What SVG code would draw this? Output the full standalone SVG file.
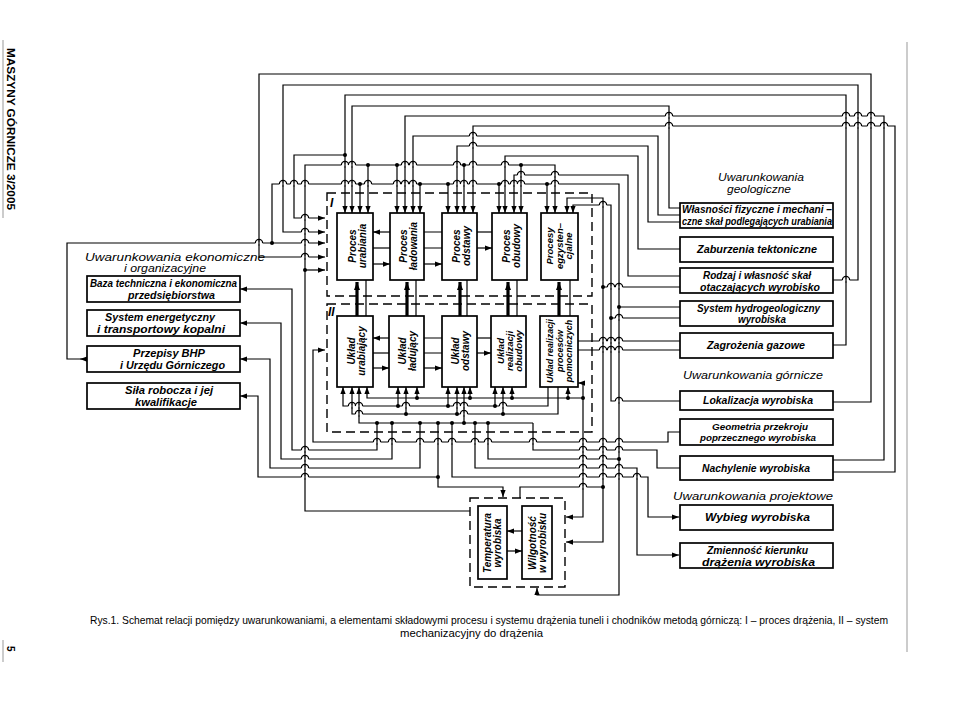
<svg xmlns="http://www.w3.org/2000/svg" xmlns:xlink="http://www.w3.org/1999/xlink" width="960" height="714" viewBox="0 0 960 714">
<style>
.b{fill:#fff;stroke:#000;stroke-width:1.7}
.w{fill:none;stroke:#000;stroke-width:1.2}
.wa{fill:none;stroke:#000;stroke-width:1.2;marker-end:url(#ar)}
.th{fill:none;stroke:#000;stroke-width:3.2;marker-end:url(#ar2)}
.d{fill:none;stroke:#000;stroke-width:1.4;stroke-dasharray:9 5}
.t{font-family:"Liberation Sans",Arial,sans-serif;font-style:italic;font-weight:bold;font-size:10px;fill:#000}
.h{font-family:"Liberation Sans",Arial,sans-serif;font-style:italic;font-size:11px;fill:#000}
.c{font-family:"Liberation Sans",Arial,sans-serif;font-size:11px;fill:#000}
.g{stroke:#999;stroke-width:1}
</style>
<defs>
<marker id="ar" viewBox="0 0 8 6" refX="8" refY="3" markerWidth="7" markerHeight="5.5" markerUnits="userSpaceOnUse" orient="auto"><path d="M0,0 L8,3 L0,6 z" fill="#000"/></marker>
<marker id="ar2" viewBox="0 0 8 6" refX="8" refY="3" markerWidth="8" markerHeight="7" markerUnits="userSpaceOnUse" orient="auto"><path d="M0,0 L8,3 L0,6 z" fill="#000"/></marker>
<g id="hop"><path d="M-3.6,0 H3.6" stroke="#fff" stroke-width="3"/><path d="M0,-2.6 V2.6" stroke="#000" stroke-width="1.2"/><path d="M-3.6,0 A3.6,3.6 0 0 1 3.6,0" fill="none" stroke="#000" stroke-width="1.2"/></g>
</defs>
<rect width="960" height="714" fill="#fff"/>

<!-- page margins -->
<line class="g" x1="3" y1="40" x2="3" y2="218"/>
<text transform="translate(7,48) rotate(90)" style="font-family:'Liberation Sans',Arial,sans-serif;font-weight:bold;font-size:10px" textLength="162" lengthAdjust="spacingAndGlyphs">MASZYNY GÓRNICZE 3/2005</text>
<line class="g" x1="3" y1="640" x2="3" y2="662"/>
<text transform="translate(7,646) rotate(90)" style="font-family:'Liberation Sans',Arial,sans-serif;font-weight:bold;font-size:10px">5</text>
<line class="g" x1="907" y1="42" x2="907" y2="652"/>

<!-- dashed frames -->
<g id="frame-I"><rect class="d" x="327" y="193" width="265" height="103"/><text class="t" x="330" y="207" style="font-size:12px">I</text></g>
<g id="frame-II"><rect class="d" x="327" y="304" width="265" height="128"/><text class="t" x="328" y="316" style="font-size:12px">II</text></g>
<g id="frame-env"><rect class="d" x="470" y="498" width="95" height="89"/></g>

<g id="connectors">
<!-- top loops -->
<path class="wa" d="M833,402 H871 V74 H259 V257 H325"/>
<path class="wa" d="M833,280 H858 V85 H283 V232 H325"/>
<path class="wa" d="M833,345 H846 V95 H345 V213"/>
<path class="wa" d="M680,208 H669 V106 H352 V213"/>
<path class="wa" d="M833,460 H884 V116 H405 V213"/>
<path class="wa" d="M833,472 H895 V126 H473 V213"/>
<path class="wa" d="M680,215 H658 V136 H413 V213"/>
<path class="wa" d="M680,222 H648 V146 H457 V213"/>
<path class="wa" d="M345,155 H294 V218 H325"/>
<path class="wa" d="M680,249 H638 V156 H505 V213"/>
<path class="wa" d="M470,511 H305 V165 H555 V213"/>
<path class="wa" d="M305,270 H325"/>
<path class="wa" d="M368,165 V213"/><path class="wa" d="M397,165 V213"/><path class="wa" d="M464,165 V213"/><path class="wa" d="M521,165 V213"/>
<path class="wa" d="M680,276 H628 V175 H514 V213"/>
<path class="wa" d="M272,243 V184 H619 V595 H537 V588"/>
<path class="wa" d="M360,184 V213"/><path class="wa" d="M420,184 V213"/><path class="wa" d="M448,184 V213"/><path class="wa" d="M499,184 V213"/><path class="wa" d="M547,184 V213"/>
<path class="wa" d="M87,359 H80"/>
<path class="wa" d="M80,359 H67 V243 H325"/>
<path class="wa" d="M603,487 V198 H567 V213"/>
<path class="wa" d="M603,487 V542 H566"/>
<path class="wa" d="M680,401 H611 V205 H573 V213"/>
<!-- right boxes lower feeds -->
<path class="w" d="M603,287 H680"/>
<path class="w" d="M619,307 H680"/>
<path class="w" d="M611,318 H680"/>
<path class="w" d="M578,341 H680"/>
<path class="w" d="M578,350 H680"/>
<!-- box I <-> box II -->
<path class="th" d="M357,316 V282"/><path class="th" d="M407,316 V282"/><path class="th" d="M460,316 V282"/><path class="th" d="M508,316 V282"/><path class="th" d="M559,316 V282"/>
<path class="w" d="M366,316 V280 M416,316 V280 M467,316 V280 M517,316 V280 M570,316 V280"/>
<!-- inter-box arrows I -->
<path class="wa" d="M390,232 H373"/><path class="w" d="M373,248 H390"/><path class="wa" d="M373,264 H390"/>
<path class="w" d="M424,232 H442 M424,248 H442"/><path class="wa" d="M424,264 H442"/>
<path class="w" d="M477,232 H492"/><path class="wa" d="M477,248 H492"/>
<!-- inter-box arrows II -->
<path class="wa" d="M389,338 H373"/><path class="w" d="M373,353 H389"/><path class="wa" d="M373,368 H389"/>
<path class="w" d="M424,338 H442 M424,353 H442"/><path class="wa" d="M424,368 H442"/>
<path class="w" d="M477,338 H491"/><path class="wa" d="M477,353 H491"/>
<!-- box II bottom buses -->
<path class="wa" d="M583,398 V383 H578"/>
<path class="wa" d="M583,398 H367 V387"/>
<path class="wa" d="M417,398 V387"/><path class="wa" d="M470,398 V387"/><path class="wa" d="M512,398 V387"/><path class="wa" d="M568,398 V387"/>
<path class="wa" d="M548,387 V406 H343 V387"/>
<path class="wa" d="M398,406 V387"/><path class="wa" d="M448,406 V387"/><path class="wa" d="M495,406 V387"/>
<path class="wa" d="M558,387 V414 H352 V387"/>
<path class="wa" d="M406,414 V387"/><path class="wa" d="M457,414 V387"/><path class="wa" d="M503,414 V387"/>
<path class="wa" d="M533,423 H359 V387"/>
<path class="wa" d="M464,423 V387"/>
<!-- to left panel -->
<path class="wa" d="M377,423 V450 H292 V289 H240"/>
<path class="wa" d="M392,423 V459 H281 V323 H240"/>
<path class="wa" d="M420,423 V468 H270 V359 H240"/>
<path class="wa" d="M438,477 H258 V396 H240"/>
<!-- to bottom frame and right panel -->
<path class="wa" d="M438,423 V487 H503 V497"/>
<path class="w" d="M520,498 V487 H603"/>
<path class="wa" d="M583,398 V517 H566"/>
<path class="wa" d="M680,432 H668 V442 H313 V350 H325"/>
<path class="w" d="M533,423 V450 H657 V468 H680"/>
<path class="w" d="M488,423 V459 H619"/>
<path class="wa" d="M475,423 V468 H637 V555 H679"/>
<path class="wa" d="M452,423 V477 H648 V517 H679"/>
<!-- bottom frame inner -->
<path class="wa" d="M522,531 H507"/><path class="wa" d="M507,551 H522"/>
<!-- dots -->
<g fill="#000">
<circle cx="345" cy="155" r="2"/><circle cx="305" cy="270" r="2"/>
<circle cx="368" cy="165" r="2"/><circle cx="397" cy="165" r="2"/><circle cx="464" cy="165" r="2"/><circle cx="521" cy="165" r="2"/>
<circle cx="272" cy="243" r="2"/>
<circle cx="360" cy="184" r="2"/><circle cx="420" cy="184" r="2"/><circle cx="448" cy="184" r="2"/><circle cx="499" cy="184" r="2"/><circle cx="547" cy="184" r="2"/>
<circle cx="603" cy="287" r="2"/><circle cx="619" cy="307" r="2"/><circle cx="611" cy="318" r="2"/><circle cx="603" cy="487" r="2"/><circle cx="619" cy="459" r="2"/>
<circle cx="583" cy="398" r="2"/><circle cx="417" cy="398" r="2"/><circle cx="470" cy="398" r="2"/><circle cx="512" cy="398" r="2"/><circle cx="568" cy="398" r="2"/>
<circle cx="398" cy="406" r="2"/><circle cx="448" cy="406" r="2"/><circle cx="495" cy="406" r="2"/>
<circle cx="406" cy="414" r="2"/><circle cx="457" cy="414" r="2"/><circle cx="503" cy="414" r="2"/>
<circle cx="464" cy="423" r="2"/><circle cx="377" cy="423" r="2"/><circle cx="392" cy="423" r="2"/><circle cx="420" cy="423" r="2"/><circle cx="438" cy="423" r="2"/><circle cx="452" cy="423" r="2"/><circle cx="475" cy="423" r="2"/><circle cx="488" cy="423" r="2"/>
<circle cx="438" cy="477" r="2"/>
</g>
<!-- hops -->
<g>
<use href="#hop" x="669" y="116"/><use href="#hop" x="846" y="116"/><use href="#hop" x="858" y="116"/><use href="#hop" x="871" y="116"/>
<use href="#hop" x="669" y="126"/><use href="#hop" x="846" y="126"/><use href="#hop" x="858" y="126"/><use href="#hop" x="871" y="126"/><use href="#hop" x="884" y="126"/>
<use href="#hop" x="473" y="136"/><use href="#hop" x="473" y="146"/>
<use href="#hop" x="345" y="165"/><use href="#hop" x="352" y="165"/><use href="#hop" x="405" y="165"/><use href="#hop" x="413" y="165"/><use href="#hop" x="457" y="165"/><use href="#hop" x="473" y="165"/><use href="#hop" x="505" y="165"/>
<use href="#hop" x="521" y="175"/><use href="#hop" x="555" y="175"/>
<use href="#hop" x="283" y="184"/><use href="#hop" x="294" y="184"/><use href="#hop" x="305" y="184"/><use href="#hop" x="345" y="184"/><use href="#hop" x="352" y="184"/><use href="#hop" x="368" y="184"/><use href="#hop" x="397" y="184"/><use href="#hop" x="405" y="184"/><use href="#hop" x="413" y="184"/><use href="#hop" x="457" y="184"/><use href="#hop" x="464" y="184"/><use href="#hop" x="473" y="184"/><use href="#hop" x="505" y="184"/><use href="#hop" x="514" y="184"/><use href="#hop" x="521" y="184"/><use href="#hop" x="555" y="184"/>
<use href="#hop" x="603" y="205"/>
<use href="#hop" x="305" y="218"/><use href="#hop" x="305" y="232"/><use href="#hop" x="259" y="243"/><use href="#hop" x="305" y="243"/><use href="#hop" x="305" y="257"/>
<use href="#hop" x="846" y="280"/>
<use href="#hop" x="611" y="287"/><use href="#hop" x="619" y="287"/><use href="#hop" x="619" y="318"/>
<use href="#hop" x="603" y="341"/><use href="#hop" x="611" y="341"/><use href="#hop" x="619" y="341"/>
<use href="#hop" x="603" y="350"/><use href="#hop" x="611" y="350"/><use href="#hop" x="619" y="350"/>
<use href="#hop" x="619" y="401"/>
<use href="#hop" x="352" y="406"/><use href="#hop" x="359" y="406"/><use href="#hop" x="406" y="406"/><use href="#hop" x="457" y="406"/><use href="#hop" x="464" y="406"/><use href="#hop" x="503" y="406"/>
<use href="#hop" x="359" y="414"/><use href="#hop" x="464" y="414"/>
<use href="#hop" x="377" y="442"/><use href="#hop" x="392" y="442"/><use href="#hop" x="420" y="442"/><use href="#hop" x="438" y="442"/><use href="#hop" x="452" y="442"/><use href="#hop" x="475" y="442"/><use href="#hop" x="488" y="442"/><use href="#hop" x="533" y="442"/><use href="#hop" x="583" y="442"/><use href="#hop" x="603" y="442"/><use href="#hop" x="619" y="442"/>
<use href="#hop" x="305" y="450"/><use href="#hop" x="583" y="450"/><use href="#hop" x="603" y="450"/><use href="#hop" x="619" y="450"/>
<use href="#hop" x="305" y="459"/><use href="#hop" x="583" y="459"/><use href="#hop" x="603" y="459"/>
<use href="#hop" x="305" y="468"/><use href="#hop" x="583" y="468"/><use href="#hop" x="603" y="468"/><use href="#hop" x="619" y="468"/>
<use href="#hop" x="305" y="477"/><use href="#hop" x="583" y="477"/><use href="#hop" x="603" y="477"/><use href="#hop" x="619" y="477"/><use href="#hop" x="637" y="477"/>
<use href="#hop" x="583" y="487"/>
</g>
</g>

<!-- left panel -->
<text class="h" x="85" y="261" textLength="180" lengthAdjust="spacingAndGlyphs">Uwarunkowania ekonomiczne</text>
<text class="h" x="124" y="272" textLength="82" lengthAdjust="spacingAndGlyphs">i organizacyjne</text>
<g id="baza"><rect class="b" x="87" y="276" width="153" height="26"/><text class="t" x="90" y="287" textLength="147" lengthAdjust="spacingAndGlyphs">Baza techniczna i ekonomiczna</text><text class="t" x="128" y="299" textLength="87" lengthAdjust="spacingAndGlyphs">przedsiębiorstwa</text></g>
<g id="energ"><rect class="b" x="87" y="310" width="153" height="26"/><text class="t" x="105" y="321" textLength="110" lengthAdjust="spacingAndGlyphs">System energetyczny</text><text class="t" x="97" y="333" textLength="128" lengthAdjust="spacingAndGlyphs">i transportowy kopalni</text></g>
<g id="bhp"><rect class="b" x="87" y="346" width="153" height="26"/><text class="t" x="133" y="357" textLength="72" lengthAdjust="spacingAndGlyphs">Przepisy BHP</text><text class="t" x="120" y="369" textLength="105" lengthAdjust="spacingAndGlyphs">i Urzędu Górniczego</text></g>
<g id="sila"><rect class="b" x="87" y="383" width="153" height="26"/><text class="t" x="125" y="394" textLength="88" lengthAdjust="spacingAndGlyphs">Siła robocza i jej</text><text class="t" x="135" y="406" textLength="62" lengthAdjust="spacingAndGlyphs">kwalifikacje</text></g>

<!-- process boxes I -->
<g id="p1"><rect class="b" x="337" y="213" width="36" height="67"/><text class="t" transform="translate(355,246) rotate(-90)" text-anchor="middle"><tspan x="0" y="1">Proces</tspan><tspan x="0" y="11">urabiania</tspan></text></g>
<g id="p2"><rect class="b" x="390" y="213" width="34" height="67"/><text class="t" transform="translate(406,246) rotate(-90)" text-anchor="middle"><tspan x="0" y="1">Proces</tspan><tspan x="0" y="11">ładowania</tspan></text></g>
<g id="p3"><rect class="b" x="442" y="213" width="35" height="67"/><text class="t" transform="translate(459,246) rotate(-90)" text-anchor="middle"><tspan x="0" y="1">Proces</tspan><tspan x="0" y="11">odstawy</tspan></text></g>
<g id="p4"><rect class="b" x="492" y="213" width="35" height="67"/><text class="t" transform="translate(509,246) rotate(-90)" text-anchor="middle"><tspan x="0" y="1">Proces</tspan><tspan x="0" y="11">obudowy</tspan></text></g>
<g id="p5"><rect class="b" x="541" y="213" width="37" height="67"/><text class="t" transform="translate(559,246) rotate(-90)" text-anchor="middle" style="font-size:9.5px"><tspan x="0" y="-6">Procesy</tspan><tspan x="0" y="3.5">egzysten–</tspan><tspan x="0" y="13">cjalne</tspan></text></g>

<!-- system boxes II -->
<g id="u1"><rect class="b" x="337" y="316" width="36" height="71"/><text class="t" transform="translate(355,351) rotate(-90)" text-anchor="middle"><tspan x="0" y="0">Układ</tspan><tspan x="0" y="10">urabiający</tspan></text></g>
<g id="u2"><rect class="b" x="389" y="316" width="35" height="71"/><text class="t" transform="translate(406,351) rotate(-90)" text-anchor="middle"><tspan x="0" y="0">Układ</tspan><tspan x="0" y="10">ładujący</tspan></text></g>
<g id="u3"><rect class="b" x="442" y="316" width="35" height="71"/><text class="t" transform="translate(459,351) rotate(-90)" text-anchor="middle"><tspan x="0" y="0">Układ</tspan><tspan x="0" y="10">odstawy</tspan></text></g>
<g id="u4"><rect class="b" x="491" y="316" width="35" height="71"/><text class="t" transform="translate(508,351) rotate(-90)" text-anchor="middle" style="font-size:9.5px"><tspan x="0" y="-4">Układ</tspan><tspan x="0" y="5">realizacji</tspan><tspan x="0" y="14">obudowy</tspan></text></g>
<g id="u5"><rect class="b" x="540" y="316" width="38" height="71"/><text class="t" transform="translate(559,351) rotate(-90)" text-anchor="middle" style="font-size:9px"><tspan x="0" y="-6" textLength="64" lengthAdjust="spacingAndGlyphs">Układ realizacji</tspan><tspan x="0" y="3.5">procesów</tspan><tspan x="0" y="13">pomocniczych</tspan></text></g>

<!-- environment boxes -->
<g id="temp"><rect class="b" x="478" y="506" width="29" height="73"/><text class="t" transform="translate(492,543) rotate(-90)" text-anchor="middle"><tspan x="0" y="-1">Temperatura</tspan><tspan x="0" y="9">wyrobiska</tspan></text></g>
<g id="wilg"><rect class="b" x="522" y="506" width="30" height="73"/><text class="t" transform="translate(537,543) rotate(-90)" text-anchor="middle"><tspan x="0" y="-1">Wilgotność</tspan><tspan x="0" y="9">w wyrobisku</tspan></text></g>

<!-- right panel -->
<text class="h" x="718" y="181" textLength="86" lengthAdjust="spacingAndGlyphs">Uwarunkowania</text>
<text class="h" x="727" y="193" textLength="64" lengthAdjust="spacingAndGlyphs">geologiczne</text>
<g id="wlasn"><rect class="b" x="680" y="203" width="153" height="25"/><text class="t" x="682" y="213" textLength="150" lengthAdjust="spacingAndGlyphs">Własności fizyczne i mechani –</text><text class="t" x="682" y="225" textLength="150" lengthAdjust="spacingAndGlyphs">czne skał podlegających urabiania</text></g>
<g id="zabur"><rect class="b" x="680" y="237" width="153" height="25"/><text class="t" x="697" y="253" textLength="120" lengthAdjust="spacingAndGlyphs">Zaburzenia tektoniczne</text></g>
<g id="rodzaj"><rect class="b" x="680" y="268" width="153" height="25"/><text class="t" x="703" y="279" textLength="108" lengthAdjust="spacingAndGlyphs">Rodzaj i własność skał</text><text class="t" x="700" y="291" textLength="120" lengthAdjust="spacingAndGlyphs">otaczających wyrobisko</text></g>
<g id="hydro"><rect class="b" x="680" y="301" width="153" height="25"/><text class="t" x="697" y="312" textLength="123" lengthAdjust="spacingAndGlyphs">System hydrogeologiczny</text><text class="t" x="738" y="323" textLength="48" lengthAdjust="spacingAndGlyphs">wyrobiska</text></g>
<g id="gaz"><rect class="b" x="680" y="333" width="153" height="25"/><text class="t" x="707" y="349" textLength="98" lengthAdjust="spacingAndGlyphs">Zagrożenia gazowe</text></g>
<text class="h" x="683" y="379" textLength="140" lengthAdjust="spacingAndGlyphs">Uwarunkowania górnicze</text>
<g id="lok"><rect class="b" x="680" y="391" width="153" height="19"/><text class="t" x="703" y="404" textLength="110" lengthAdjust="spacingAndGlyphs">Lokalizacja wyrobiska</text></g>
<g id="geom"><rect class="b" x="680" y="419" width="153" height="26"/><text class="t" x="712" y="430" textLength="96" lengthAdjust="spacingAndGlyphs" style="font-size:9px">Geometria przekroju</text><text class="t" x="700" y="441" textLength="116" lengthAdjust="spacingAndGlyphs" style="font-size:9px">poprzecznego wyrobiska</text></g>
<g id="nach"><rect class="b" x="680" y="456" width="153" height="24"/><text class="t" x="702" y="472" textLength="108" lengthAdjust="spacingAndGlyphs">Nachylenie wyrobiska</text></g>
<text class="h" x="673" y="500" textLength="160" lengthAdjust="spacingAndGlyphs">Uwarunkowania projektowe</text>
<g id="wybieg"><rect class="b" x="680" y="505" width="153" height="25"/><text class="t" x="705" y="521" textLength="105" lengthAdjust="spacingAndGlyphs">Wybieg wyrobiska</text></g>
<g id="zmien"><rect class="b" x="680" y="543" width="153" height="25"/><text class="t" x="707" y="554" textLength="101" lengthAdjust="spacingAndGlyphs">Zmienność kierunku</text><text class="t" x="702" y="566" textLength="113" lengthAdjust="spacingAndGlyphs">drążenia wyrobiska</text></g>

<!-- caption -->
<text class="c" x="90" y="624" textLength="798" lengthAdjust="spacingAndGlyphs">Rys.1. Schemat relacji pomiędzy uwarunkowaniami, a elementami składowymi procesu i systemu drążenia tuneli i chodników metodą górniczą: I – proces drążenia, II – system</text>
<text class="c" x="400" y="637" textLength="143" lengthAdjust="spacingAndGlyphs">mechanizacyjny do drążenia</text>
</svg>
